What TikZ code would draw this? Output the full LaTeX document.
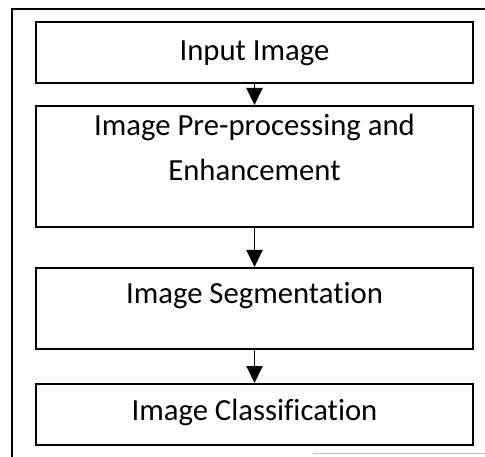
\documentclass[tikz,border=0pt]{standalone}
\usepackage{fontspec}
\setmainfont{Carlito}[Ligatures=NoCommon]
\usetikzlibrary{arrows.meta}

\begin{document}
\begin{tikzpicture}[x=1pt,y=-1pt,
        stage/.style={draw,line width=1.9pt,anchor=north,inner xsep=0pt,inner ysep=0pt,
            text width=437pt,align=flush center,font=\fontsize{30.7}{45}\selectfont},
        flow/.style={-{Triangle[width=16pt,length=17pt]},line width=1.9pt}]
            \useasboundingbox (0,0) rectangle (485,457);
            \node[stage,text height=39pt,text depth=22pt] (input) at (254.5,21) {Input Image};
            \node[stage,text height=30pt,text depth=91pt] (preproc) at (254.5,105) {Image Pre-processing and\\Enhancement};
            \node[stage,text height=36pt,text depth=45pt] (segm) at (254.5,267) {Image Segmentation};
            \node[stage,text height=37pt,text depth=24pt] (classif) at (254.5,383) {Image Classification};

            \draw[line width=1.9pt] (485,9) -| (12,457);
            \draw[gray!50,line width=0.8pt] (313,453) -- (485,453);

            \draw[flow] (input) to (preproc);
            \draw[flow] (preproc) to (segm);
            \draw[flow] (segm) to (classif);
        \end{tikzpicture}
\end{document}
